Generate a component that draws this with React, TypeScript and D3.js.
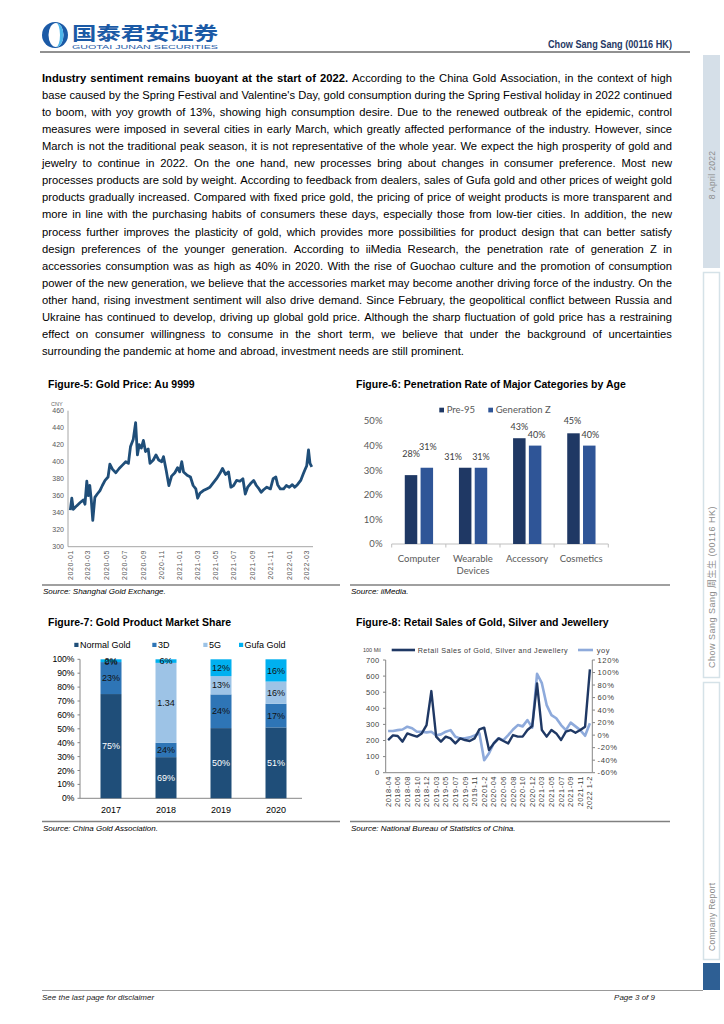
import React, { useMemo } from 'react';
import * as d3 from 'd3';

// ---------------- DATA ----------------
const leadSentence = 'Industry sentiment remains buoyant at the start of 2022.';
const paragraphLines = [
  'According to the China Gold Association, in the context of high',
  "base caused by the Spring Festival and Valentine's Day, gold consumption during the Spring Festival holiday in 2022 continued",
  'to boom, with yoy growth of 13%, showing high consumption desire. Due to the renewed outbreak of the epidemic, control',
  'measures were imposed in several cities in early March, which greatly affected performance of the industry. However, since',
  'March is not the traditional peak season, it is not representative of the whole year. We expect the high prosperity of gold and',
  'jewelry to continue in 2022. On the one hand, new processes bring about changes in consumer preference. Most new',
  'processes products are sold by weight. According to feedback from dealers, sales of Gufa gold and other prices of weight gold',
  'products gradually increased. Compared with fixed price gold, the pricing of price of weight products is more transparent and',
  'more in line with the purchasing habits of consumers these days, especially those from low-tier cities. In addition, the new',
  'process further improves the plasticity of gold, which provides more possibilities for product design that can better satisfy',
  'design preferences of the younger generation. According to iiMedia Research, the penetration rate of generation Z in',
  'accessories consumption was as high as 40% in 2020. With the rise of Guochao culture and the promotion of consumption',
  'power of the new generation, we believe that the accessories market may become another driving force of the industry. On the',
  'other hand, rising investment sentiment will also drive demand. Since February, the geopolitical conflict between Russia and',
  'Ukraine has continued to develop, driving up global gold price. Although the sharp fluctuation of gold price has a restraining',
  'effect on consumer willingness to consume in the short term, we believe that under the background of uncertainties',
  'surrounding the pandemic at home and abroad, investment needs are still prominent.',
];

// Figure-5: Gold price Au 9999 (CNY)
const goldDates = [
  '2020-01-02', '2020-01-07', '2020-01-12', '2020-01-23', '2020-02-04', '2020-02-15', '2020-02-20', '2020-02-26',
  '2020-03-02', '2020-03-07', '2020-03-12', '2020-03-17', '2020-03-24', '2020-04-01', '2020-04-10', '2020-04-18',
  '2020-04-27', '2020-05-07', '2020-05-13', '2020-05-22', '2020-06-02', '2020-06-13', '2020-06-24', '2020-07-05',
  '2020-07-14', '2020-07-21', '2020-07-30', '2020-08-07', '2020-08-13', '2020-08-19', '2020-08-26', '2020-09-02',
  '2020-09-09', '2020-09-18', '2020-09-24', '2020-10-05', '2020-10-14', '2020-10-23', '2020-11-02', '2020-11-08',
  '2020-11-17', '2020-11-26', '2020-12-05', '2020-12-16', '2020-12-25', '2021-01-01', '2021-01-08', '2021-01-14',
  '2021-01-26', '2021-02-06', '2021-02-15', '2021-02-24', '2021-03-02', '2021-03-10', '2021-03-21', '2021-04-01',
  '2021-04-12', '2021-04-23', '2021-05-04', '2021-05-15', '2021-05-24', '2021-06-03', '2021-06-13', '2021-06-21',
  '2021-06-30', '2021-07-10', '2021-07-21', '2021-07-31', '2021-08-08', '2021-08-16', '2021-08-25', '2021-09-05',
  '2021-09-14', '2021-09-23', '2021-09-30', '2021-10-08', '2021-10-19', '2021-10-31', '2021-11-09', '2021-11-18',
  '2021-11-24', '2021-12-03', '2021-12-14', '2021-12-23', '2022-01-02', '2022-01-12', '2022-01-20', '2022-01-29',
  '2022-02-09', '2022-02-18', '2022-02-25', '2022-03-01', '2022-03-07', '2022-03-12', '2022-03-18',
];
const goldValues = [
  343, 357, 344, 348, 352, 355, 350, 377,
  360, 372, 355, 331, 358, 362, 366, 372,
  378, 382, 397, 391, 387, 392, 396, 400,
  398, 418, 426, 446, 408, 420, 416, 425,
  412, 415, 398, 402, 408, 402, 400, 406,
  390, 372, 383, 387, 393, 388, 400, 388,
  384, 382, 372, 368, 357, 363, 366, 368,
  370, 375, 380, 386, 392, 385, 388, 370,
  372, 378, 377, 380, 362, 370, 374, 378,
  372, 368, 364, 367, 370, 368, 380, 382,
  373, 368, 368, 372, 370, 373, 370, 373,
  378, 386, 392, 395, 414, 398, 394,
];
const goldTickLabels = ['2020-01', '2020-03', '2020-05', '2020-07', '2020-09', '2020-11', '2021-01', '2021-03',
  '2021-05', '2021-07', '2021-09', '2021-11', '2022-01', '2022-03'];
const goldYTicks = [300, 320, 340, 360, 380, 400, 420, 440, 460];

// Figure-6: Penetration rate by age
const penCategories = ['Computer', 'Wearable Devices', 'Accessory', 'Cosmetics'];
const penSeries = ['Pre-95', 'Generation Z'];
const penPre95 = [28, 31, 43, 45];
const penGenZ = [31, 31, 40, 40];
const penYTicks = [0, 10, 20, 30, 40, 50];

// Figure-7: Gold product market share (raw values, chart is 100% stacked)
const shareYears = ['2017', '2018', '2019', '2020'];
const shareSeries = ['Normal Gold', '3D', '5G', 'Gufa Gold'];
const shareNormal = [0.75, 0.69, 0.5, 0.51];
const share3D = [0.23, 0.24, 0.24, 0.17];
const share5G = [0.0, 1.34, 0.13, 0.16];
const shareGufa = [0.02, 0.06, 0.12, 0.16];
const shareYTicks = [0, 0.1, 0.2, 0.3, 0.4, 0.5, 0.6, 0.7, 0.8, 0.9, 1.0];

// Figure-8: Retail sales of gold, silver and jewellery
const retailPeriods = [
  '2018-04', '2018-05', '2018-06', '2018-07', '2018-08', '2018-09', '2018-10', '2018-11', '2018-12',
  '20191-2', '2019-03', '2019-04', '2019-05', '2019-06', '2019-07', '2019-08', '2019-09', '2019-10', '2019-11', '2019-12',
  '20201-2', '2020-03', '2020-04', '2020-05', '2020-06', '2020-07', '2020-08', '2020-09', '2020-10', '2020-11', '2020-12',
  '20211-2', '2021-03', '2021-04', '2021-05', '2021-06', '2021-07', '2021-08', '2021-09', '2021-10', '2021-11', '2021-12',
  '2022  1-2',
];
const retailSales = [
  203, 232, 228, 193, 244, 234, 224, 244, 296,
  507, 224, 193, 224, 213, 182, 213, 203, 197, 213, 269,
  280, 141, 182, 213, 197, 182, 234, 224, 224, 265, 290,
  555, 265, 224, 265, 244, 203, 255, 265, 248, 265, 286,
  642,
];
const retailYoy = [
  6.6, 6.6, 8, 9, 13.5, 11, 5.5, 5.5, 4.4,
  5.5, -0.4, 1.2, 5.5, 8, -2.5, -5.2, -5.2, -3.6, -0.4, 3,
  -40, -29, -13, -5, -8, 0, 9, 16, 14, 24, 12,
  98, 83, 48, 32, 27, 16, 8, 20, 14, 8, -1,
  19,
];
const retailLeftTicks = [0, 100, 200, 300, 400, 500, 600, 700];
const retailRightTicks = [-60, -40, -20, 0, 20, 40, 60, 80, 100, 120];

// ---------------- STYLE ----------------
const SANS = "'Liberation Sans', Arial, Helvetica, sans-serif";
const CAL = "Lato, 'Open Sans', sans-serif";
const AXIS = '#a6a6a6';
const LABEL = '#404040';

function Paragraph() {
  const x0 = 42;
  const width = 630;
  const y0 = 82;
  const lh = 17.06;
  const fs = 11.5;
  const layout = useMemo(() => {
    const canvas = document.createElement('canvas');
    const ctx = canvas.getContext('2d') as CanvasRenderingContext2D;
    const measure = (s: string, bold: boolean) => {
      ctx.font = `${bold ? 'bold ' : ''}${fs}px "Liberation Sans", Arial, sans-serif`;
      return ctx.measureText(s).width;
    };
    const space = measure(' ', false);
    const wordLines = paragraphLines.map((ln, i) => {
      const ws = ln.split(/\s+/).map((t) => ({ t, bold: false }));
      if (i === 0) {
        const lead = leadSentence.split(' ').map((t) => ({ t, bold: true }));
        return [...lead, ...ws];
      }
      return ws;
    });
    const widths = wordLines.map((ws) => ws.map((w) => measure(w.t, w.bold)));
    const naturals = widths.map((wl) => d3.sum(wl) + space * (wl.length - 1));
    const k = Math.min(1, width / (d3.max(naturals) as number));
    const inner = width / k;
    return wordLines.map((ws, i) => {
      const wl = widths[i];
      const last = i === wordLines.length - 1;
      const gap = last ? space : (inner - d3.sum(wl)) / (wl.length - 1);
      let pos = 0;
      const items = ws.map((w, j) => {
        const it = { ...w, x: pos };
        pos += wl[j] + gap;
        return it;
      });
      return { items, k };
    });
  }, []);
  return (
    <g fontFamily={SANS} fontSize={fs} fill="#000">
      {layout.map((ln, i) => (
        <g key={i} transform={`translate(${x0},${y0 + i * lh}) scale(${ln.k},1)`}>
          {ln.items.map((w, j) => (
            <text key={j} x={w.x} y={0} fontWeight={w.bold ? 'bold' : 'normal'}>
              {w.t}
            </text>
          ))}
        </g>
      ))}
    </g>
  );
}

function Header() {
  return (
    <g>
      {/* logo mark */}
      <circle cx={55} cy={35} r={13} fill="#1b5aa6" />
      <ellipse cx={56} cy={35} rx={7.5} ry={12} fill="#fff" />
      <path d="M56,23 A7.5,12 0 0 1 56,47 A4,12 0 0 0 56,23 Z" fill="#4db6ea" />
      <text x={72} y={40} fontFamily="'Noto Sans CJK SC', sans-serif" fontWeight="bold" fontSize={18.5}
        fill="#1b5aa6" textLength={146} lengthAdjust="spacingAndGlyphs">国泰君安证券</text>
      <text x={72} y={48.6} fontFamily={SANS} fontSize={5.9} fill="#1b5aa6" textLength={146}
        lengthAdjust="spacingAndGlyphs">GUOTAI JUNAN SECURITIES</text>
      <text x={672} y={48} textAnchor="end" fontFamily={SANS} fontWeight="bold" fontSize={10.5}
        fill="#1f3864" textLength={124} lengthAdjust="spacingAndGlyphs">Chow Sang Sang (00116 HK)</text>
      <line x1={40} x2={690} y1={52} y2={52} stroke="#222" strokeWidth={1} />
    </g>
  );
}

function Sidebar() {
  const x = 703;
  const w = 17;
  return (
    <g fontFamily={SANS}>
      <rect x={x} y={55} width={w} height={213} fill="#d5dfe8" />
      <text transform={`translate(${x + w / 2 + 3},${175}) rotate(-90)`} textAnchor="middle" fontSize={8.5} fill="#8c8c8c"
        letterSpacing={0.3}>8 April 2022</text>
      <rect x={x + 0.5} y={272.5} width={w - 1} height={405} fill="#fff" stroke="#d5e2e8" strokeWidth={1.5} />
      <text transform={`translate(${x + w / 2 + 3},${668}) rotate(-90)`} textAnchor="start" fontSize={9} fill="#8c8c8c"
        letterSpacing={0.5}>
        Chow Sang Sang  <tspan fontFamily="'Noto Sans CJK SC', sans-serif">周生生</tspan>  (00116 HK)
      </text>
      <rect x={x + 0.5} y={682.5} width={w - 1} height={277} fill="#fff" stroke="#d5e2e8" strokeWidth={1.5} />
      <text transform={`translate(${x + w / 2 + 3},${951}) rotate(-90)`} textAnchor="start" fontSize={8.5} fill="#8c8c8c"
        letterSpacing={0.3}>Company Report</text>
      <rect x={x} y={963} width={w} height={27} fill="#2e5f94" />
    </g>
  );
}

function Footer() {
  return (
    <g fontFamily={SANS} fontStyle="italic" fontSize={8} fill="#222">
      <line x1={42} x2={703} y1={990.5} y2={990.5} stroke="#999" strokeWidth={1} />
      <text x={42} y={999.5}>See  the last page for  disclaimer</text>
      <text x={655} y={999.5} textAnchor="end">Page 3 of 9</text>
    </g>
  );
}

function FigureFrame({ x, y, title, sourceY, source, width }: any) {
  return (
    <g fontFamily={SANS}>
      <text x={x + 6} y={y} fontWeight="bold" fontSize={10.5} fill="#000">{title}</text>
      <line x1={x} x2={x + width} y1={sourceY} y2={sourceY} stroke="#808080" strokeWidth={1.5} />
      <text x={x + 1} y={sourceY + 9} fontStyle="italic" fontSize={8} fill="#000">{source}</text>
    </g>
  );
}

function Fig5() {
  const parse = d3.timeParse('%Y-%m-%d');
  const x = d3.scaleTime().domain([parse('2020-01-01') as Date, parse('2022-03-01') as Date]).range([70, 306.7]);
  const y = d3.scaleLinear().domain([300, 460]).range([546.7, 410.7]);
  const pts = goldDates.map((d, i) => [x(parse(d) as Date), y(goldValues[i])] as [number, number]);
  const line = d3.line()(pts) as string;
  const tickDates = goldTickLabels.map((t) => parse(t + '-01') as Date);
  return (
    <g fontFamily={SANS}>
      <text x={51} y={406} fontSize={5.5} fill="#666">CNY</text>
      <line x1={68} x2={68} y1={410.7} y2={546.7} stroke={AXIS} />
      <line x1={68} x2={313} y1={546.7} y2={546.7} stroke={AXIS} />
      {goldYTicks.map((t) => (
        <text key={t} x={64} y={y(t)} dy="0.35em" textAnchor="end" fontSize={7} fill="#595959">{t}</text>
      ))}
      {tickDates.map((d, i) => (
        <text key={i} transform={`translate(${x(d) + 2.5},550) rotate(-90)`} textAnchor="end" fontSize={7}
          letterSpacing={0.6} fill="#595959">{goldTickLabels[i]}</text>
      ))}
      <path d={line} fill="none" stroke="#1f4e79" strokeWidth={2.8} strokeLinejoin="round" />
    </g>
  );
}

function Fig6() {
  const x = d3.scaleBand().domain(penCategories).range([391.7, 608.3]);
  const y = d3.scaleLinear().domain([0, 50]).range([544, 421]);
  const colors = ['#1f3864', '#2f5597'];
  const bw = 12.5;
  const labelLift = [[21, 21], [11, 11], [11.5, 11], [12, 11]];
  const labelShift = [[0, 1], [-12, 0], [0, 1.5], [-1, 1]];
  const series = [penPre95, penGenZ];
  return (
    <g fontFamily={CAL}>
      {penSeries.map((s, i) => {
        const lx = [439.3, 488.3][i];
        return (
          <g key={s}>
            <rect x={lx} y={407.7} width={4.7} height={4.7} fill={colors[i]} />
            <text x={lx + 7.4} y={410} dy="0.35em" fontSize={9.5} fill="#595959">{s}</text>
          </g>
        );
      })}
      {penYTicks.map((t) => (
        <text key={t} x={382.5} y={y(t)} dy="0.35em" textAnchor="end" fontSize={9.5} fill="#595959">{t}%</text>
      ))}
      <line x1={391.7} x2={608.3} y1={544} y2={544} stroke="#bfbfbf" />
      {[0, 1, 2, 3, 4].map((i) => {
        const tx = 391.7 + i * x.bandwidth();
        return <line key={i} x1={tx} x2={tx} y1={544} y2={547.5} stroke="#bfbfbf" />;
      })}
      {penCategories.map((c, ci) => {
        const cx = (x(c) as number) + x.bandwidth() / 2;
        return (
          <g key={c}>
            {series.map((vals, si) => {
              const bx = si === 0 ? cx - 14 : cx + 1.8;
              const top = y(vals[ci]);
              return (
                <g key={si}>
                  <rect x={bx} y={top} width={bw} height={544 - top} fill={colors[si]} />
                  <text x={bx + bw / 2 + labelShift[ci][si]} y={top - labelLift[ci][si]} dy="0.35em" textAnchor="middle"
                    fontSize={9} fill={LABEL}>{vals[ci]}%</text>
                </g>
              );
            })}
            {c.split(' ').map((w, wi) => (
              <text key={wi} x={cx} y={558.3 + wi * 12} dy="0.35em" textAnchor="middle" fontSize={9.5} fill="#595959">{w}</text>
            ))}
          </g>
        );
      })}
    </g>
  );
}

function Fig7() {
  const x = d3.scaleBand().domain(shareYears).range([82, 302]);
  const y = d3.scaleLinear().domain([0, 1]).range([798.3, 659.3]);
  const colors = ['#1f4e79', '#2e75b6', '#9dc3e6', '#00b0f0'];
  const labelColors = ['#ffffff', '#111111', '#111111', '#111111'];
  const series = [shareNormal, share3D, share5G, shareGufa];
  const fmt = (v: number) => (v > 1 ? v.toFixed(2) : `${Math.round(v * 100)}%`);
  const bw = 21;
  const legendX = [74.3, 152.3, 203.3, 239];
  return (
    <g fontFamily={SANS}>
      {shareSeries.map((s, i) => (
        <g key={s}>
          <rect x={legendX[i]} y={642.8} width={4.2} height={4.2} fill={colors[i]} />
          <text x={legendX[i] + 5.6} y={645} dy="0.35em" fontSize={9} fill="#000">{s}</text>
        </g>
      ))}
      <line x1={80} x2={80} y1={659.3} y2={798.3} stroke="#868686" />
      <line x1={80} x2={302} y1={798.3} y2={798.3} stroke="#868686" />
      {shareYTicks.map((t) => (
        <g key={t}>
          <line x1={77.5} x2={80} y1={y(t)} y2={y(t)} stroke="#868686" />
          <text x={74.5} y={y(t)} dy="0.35em" textAnchor="end" fontSize={8.6} fill="#000">{Math.round(t * 100)}%</text>
        </g>
      ))}
      {shareYears.map((yr, yi) => {
        const total = d3.sum(series.map((s) => s[yi]));
        const cx = (x(yr) as number) + x.bandwidth() / 2 + 1.5;
        let acc = 0;
        return (
          <g key={yr}>
            {series.map((s, si) => {
              const v = s[yi] / total;
              const y0 = y(acc);
              const y1 = y(acc + v);
              acc += v;
              return <rect key={si} x={cx - bw / 2} y={y1} width={bw} height={Math.max(0, y0 - y1)} fill={colors[si]} />;
            })}
            {(() => {
              let a = 0;
              return series.map((s, si) => {
                const v = s[yi] / total;
                const mid = y(a + v / 2);
                a += v;
                return (
                  <text key={si} x={cx} y={mid} dy="0.35em" textAnchor="middle" fontSize={9} fill={labelColors[si]}>{fmt(s[yi])}</text>
                );
              });
            })()}
            <text x={cx} y={810} dy="0.35em" textAnchor="middle" fontSize={9} fill="#000">{yr}</text>
          </g>
        );
      })}
    </g>
  );
}

function Fig8() {
  const x = d3.scaleBand().domain(retailPeriods).range([385.7, 592.3]);
  const yL = d3.scaleLinear().domain([0, 700]).range([772.7, 660]);
  const yR = d3.scaleLinear().domain([-60, 120]).range([772.7, 660]);
  const cx = (p: string) => (x(p) as number) + x.bandwidth() / 2;
  const salesLine = d3.line<number>().x((_, i) => cx(retailPeriods[i])).y((v) => yL(v))(retailSales) as string;
  const yoyLine = d3.line<number>().x((_, i) => cx(retailPeriods[i])).y((v) => yR(v))(retailYoy) as string;
  const dark = '#1f3864';
  const light = '#8eaadb';
  return (
    <g fontFamily={SANS}>
      <text x={363} y={652} fontSize={5.5} fill="#404040">100 Mil</text>
      <line x1={391.7} x2={415} y1={650} y2={650} stroke={dark} strokeWidth={2.6} />
      <text x={417.7} y={650} dy="0.35em" fontSize={7.2} fill="#404040" textLength={150} lengthAdjust="spacing">Retail Sales of Gold, Silver and Jewellery</text>
      <line x1={578} x2={593} y1={650} y2={650} stroke={light} strokeWidth={2.6} />
      <text x={596.7} y={650} dy="0.35em" fontSize={7.5} fill="#404040" letterSpacing={0.6}>yoy</text>
      <line x1={385.7} x2={385.7} y1={660} y2={772.7} stroke="#868686" />
      <line x1={592.3} x2={592.3} y1={660} y2={772.7} stroke="#868686" />
      <line x1={385.7} x2={592.3} y1={772.7} y2={772.7} stroke="#868686" />
      {retailLeftTicks.map((t) => (
        <g key={t}>
          <line x1={383} x2={385.7} y1={yL(t)} y2={yL(t)} stroke="#868686" />
          <text x={379.5} y={yL(t)} dy="0.35em" textAnchor="end" fontSize={7.6} fill="#404040" letterSpacing={0.3}>{t}</text>
        </g>
      ))}
      {retailRightTicks.map((t) => (
        <g key={t}>
          <line x1={592.3} x2={595} y1={yR(t)} y2={yR(t)} stroke="#868686" />
          <text x={597.5} y={yR(t)} dy="0.35em" textAnchor="start" fontSize={7.6} fill="#404040" letterSpacing={0.6}>{t}%</text>
        </g>
      ))}
      {retailPeriods.map((p, i) =>
        i % 2 === 0 ? (
          <text key={p} transform={`translate(${cx(p) + 2.6},776) rotate(-90)`} textAnchor="end" fontSize={7.4}
            letterSpacing={0.55} fill="#404040">{p}</text>
        ) : null
      )}
      <path d={yoyLine} fill="none" stroke={light} strokeWidth={2.6} strokeLinejoin="round" />
      <path d={salesLine} fill="none" stroke={dark} strokeWidth={2.4} strokeLinejoin="round" />
    </g>
  );
}

export default function App() {
  return (
    <svg width={724} height={1024} viewBox="0 0 724 1024"
      style={{ position: 'absolute', left: 0, top: 0, background: '#fff' }}>
      <rect x={0} y={0} width={724} height={1024} fill="#fff" />
      <Header />
      <Sidebar />
      <Paragraph />
      <FigureFrame x={42} y={388} title="Figure-5: Gold Price: Au 9999" sourceY={585} width={298}
        source="Source: Shanghai Gold Exchange." />
      <FigureFrame x={350} y={388} title="Figure-6: Penetration Rate of Major Categories by Age" sourceY={585} width={320}
        source="Source: iiMedia." />
      <FigureFrame x={42} y={626} title="Figure-7: Gold Product Market Share" sourceY={821.5} width={298}
        source="Source: China Gold Association." />
      <FigureFrame x={350} y={626} title="Figure-8: Retail Sales of Gold, Silver and Jewellery" sourceY={821.5} width={320}
        source="Source: National Bureau of Statistics of China." />
      <Fig5 />
      <Fig6 />
      <Fig7 />
      <Fig8 />
      <Footer />
    </svg>
  );
}
